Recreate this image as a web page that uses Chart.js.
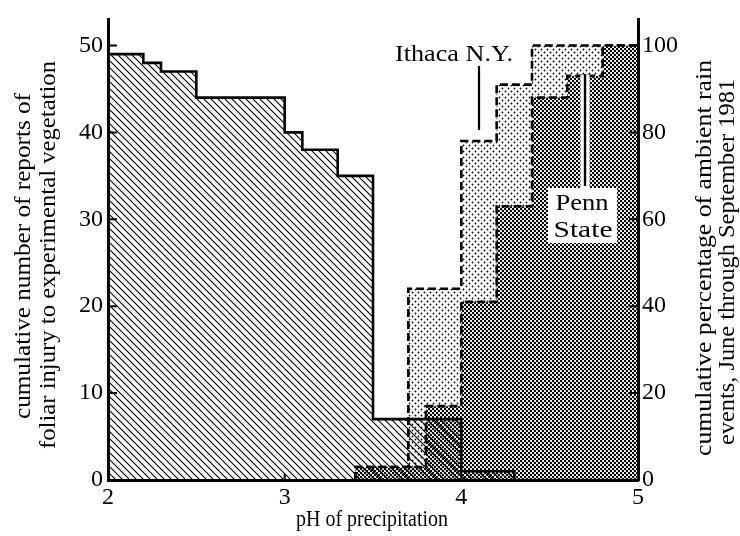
<!DOCTYPE html>
<html><head><meta charset="utf-8">
<script src="https://cdn.jsdelivr.net/npm/chart.js@4"></script>
<style>html,body{margin:0;padding:0;background:#fff}#wrap{width:740px;height:536px}</style>
</head><body><div id="wrap"><canvas id="c" width="740" height="536"></canvas></div>
<script>
// ---- data ----
const xTicks = [2, 3, 4, 5];
const leftTicks = [0, 10, 20, 30, 40, 50];
const rightTicks = [0, 20, 40, 60, 80, 100];
// injury reports (left axis), step value holds from this pH to the next
const injuryPH = [2.0, 2.2, 2.3, 2.5, 3.0, 3.1, 3.3, 3.5, 4.0, 4.3];
const injuryReports = [49, 48, 47, 44, 40, 38, 35, 7, 1, 0];
// Ithaca N.Y. cumulative % of rain events (right axis)
const ithacaPH = [3.4, 3.4, 3.7, 4.0, 4.2, 4.4, 5.0];
const ithacaPct = [0, 3, 44, 78, 91, 100, 100];
// Penn State cumulative % of rain events (right axis)
const pennPH = [3.4, 3.4, 3.8, 4.0, 4.2, 4.4, 4.6, 4.8, 5.0];
const pennPct = [0, 3, 17, 41, 63, 88, 93, 100, 100];

const xTitle = 'pH of precipitation';
const leftTitle = ['cumulative number of reports of', 'foliar injury to experimental vegetation'];
const rightTitle = ['cumulative percentage of ambient rain', 'events, June through September 1981'];
const labelIthaca = 'Ithaca N.Y.';
const labelPenn = ['Penn', 'State'];

const FONT = '"Liberation Serif", "DejaVu Serif", serif';
Chart.defaults.font.family = FONT;
Chart.defaults.color = '#000';

const canvas = document.getElementById('c');
const mainCtx = canvas.getContext('2d');

function makePattern(kind) {
  const c = document.createElement('canvas');
  const g = c.getContext('2d');
  const dot = (x, y, r) => { g.beginPath(); g.arc(x, y, r, 0, Math.PI * 2); g.fill(); };
  if (kind === 'hatch') {
    const s = 7; c.width = s; c.height = s;
    g.strokeStyle = '#000'; g.lineWidth = 1.15;
    g.beginPath();
    g.moveTo(0, 0); g.lineTo(s, s);
    g.moveTo(-1, s - 1); g.lineTo(1, s + 1);
    g.moveTo(s - 1, -1); g.lineTo(s + 1, 1);
    g.stroke();
  } else if (kind === 'light') {
    c.width = 6; c.height = 6;
    g.fillStyle = '#fff'; g.fillRect(0, 0, 6, 6);
    g.fillStyle = '#000';
    dot(1.5, 1.5, 0.9); dot(4.5, 4.5, 0.9);
  } else {
    c.width = 4; c.height = 4;
    g.fillStyle = '#fff'; g.fillRect(0, 0, 4, 4);
    g.fillStyle = '#000';
    dot(1, 1, 1.25); dot(3, 3, 1.25);
  }
  return mainCtx.createPattern(c, 'repeat');
}

const toPts = (xs, ys) => xs.map((x, i) => ({ x: x, y: ys[i] }));

// text helper: draws text with given font size, stretched horizontally to target width
function drawFit(ctx, text, x, y, size, targetW, rot, baseline, weight) {
  ctx.save();
  ctx.font = (weight || 'normal') + ' ' + size + 'px ' + FONT;
  ctx.textAlign = 'center';
  ctx.textBaseline = baseline || 'middle';
  const w = ctx.measureText(text).width;
  const sx = targetW ? targetW / w : 1;
  ctx.translate(x, y);
  if (rot) ctx.rotate(rot);
  ctx.scale(sx, 1);
  ctx.fillText(text, 0, 0);
  ctx.restore();
}

const tickMarks = {
  id: 'tickMarks',
  afterDatasetsDraw(chart) {
    const { ctx, chartArea: a, scales } = chart;
    ctx.save();
    ctx.strokeStyle = '#000'; ctx.lineWidth = 2;
    ctx.beginPath();
    leftTicks.forEach(v => { const y = scales.y.getPixelForValue(v); ctx.moveTo(a.left, y); ctx.lineTo(a.left + 9, y); });
    rightTicks.forEach(v => { const y = scales.y1.getPixelForValue(v); ctx.moveTo(a.right, y); ctx.lineTo(a.right - 9, y); });
    xTicks.forEach(v => { const x = scales.x.getPixelForValue(v); ctx.moveTo(x, a.bottom); ctx.lineTo(x, a.bottom - 6); });
    ctx.stroke();
    ctx.restore();
  }
};

const texts = {
  id: 'texts',
  afterDraw(chart) {
    const ctx = chart.ctx;
    const { scales } = chart;
    ctx.save();
    ctx.fillStyle = '#000';
    // axis titles
    drawFit(ctx, xTitle, 372, 526, 23, 152, 0, 'alphabetic');
    drawFit(ctx, leftTitle[0], 24, 256, 23, 326, -Math.PI / 2);
    drawFit(ctx, leftTitle[1], 49, 255, 23, 388, -Math.PI / 2);
    drawFit(ctx, rightTitle[0], 705, 258, 23, 396, -Math.PI / 2);
    drawFit(ctx, rightTitle[1], 728, 262, 23, 366, -Math.PI / 2);

    // Ithaca label + leader
    const xi = scales.x.getPixelForValue(4.1);
    drawFit(ctx, labelIthaca, 454, 61, 23, 118, 0, 'alphabetic');
    ctx.strokeStyle = '#000'; ctx.lineWidth = 2.2;
    ctx.beginPath(); ctx.moveTo(xi, 66); ctx.lineTo(xi, 130); ctx.stroke();

    // Penn State leader with white halo
    const xp = scales.x.getPixelForValue(4.7);
    ctx.strokeStyle = '#fff'; ctx.lineWidth = 9;
    ctx.beginPath(); ctx.moveTo(xp, 75); ctx.lineTo(xp, 188); ctx.stroke();
    ctx.strokeStyle = '#000'; ctx.lineWidth = 2.4;
    ctx.beginPath(); ctx.moveTo(xp, 74); ctx.lineTo(xp, 186); ctx.stroke();
    // Penn State label box
    ctx.fillStyle = '#fff';
    ctx.fillRect(548, 188, 69, 55);
    ctx.fillStyle = '#000';
    drawFit(ctx, labelPenn[0], 582, 210, 23, 53, 0, 'alphabetic');
    drawFit(ctx, labelPenn[1], 583, 237, 23, 59, 0, 'alphabetic');
    ctx.restore();
  }
};

const tickFont = { size: 24, family: FONT, weight: 'normal' };

new Chart(canvas, {
  type: 'line',
  data: {
    datasets: [
      {
        label: 'foliar injury reports',
        data: toPts(injuryPH, injuryReports),
        yAxisID: 'y',
        stepped: 'before',
        borderColor: '#000', borderWidth: 2.6,
        backgroundColor: makePattern('hatch'),
        fill: 'origin', pointRadius: 0, tension: 0
      },
      {
        label: 'Penn State',
        data: toPts(pennPH, pennPct),
        yAxisID: 'y1',
        stepped: 'before',
        borderColor: '#000', borderWidth: 2.6, borderDash: [8, 4],
        backgroundColor: makePattern('dense'),
        fill: 'origin', pointRadius: 0, tension: 0
      },
      {
        label: 'Ithaca N.Y.',
        data: toPts(ithacaPH, ithacaPct),
        yAxisID: 'y1',
        stepped: 'before',
        borderColor: '#000', borderWidth: 2.6, borderDash: [8, 4],
        backgroundColor: makePattern('light'),
        fill: 'origin', pointRadius: 0, tension: 0
      }
    ]
  },
  options: {
    responsive: false,
    animation: false,
    devicePixelRatio: 1,
    layout: { padding: { top: 16, left: 0, right: 0, bottom: 0 } },
    plugins: { legend: { display: false }, tooltip: { enabled: false } },
    scales: {
      x: {
        type: 'linear', min: 2, max: 5,
        afterBuildTicks: s => { s.ticks = xTicks.map(v => ({ value: v })); },
        afterFit: s => { s.height = 56; },
        ticks: { font: tickFont, color: '#000', padding: 3, maxRotation: 0, autoSkip: false },
        grid: { display: false, drawTicks: false },
        border: { display: true, color: '#000', width: 3, z: 1 }
      },
      y: {
        type: 'linear', position: 'left', min: 0, max: 53,
        afterBuildTicks: s => { s.ticks = leftTicks.map(v => ({ value: v })); },
        afterFit: s => { s.width = 108; },
        ticks: { font: tickFont, color: '#000', padding: 5, autoSkip: false },
        grid: { display: false, drawTicks: false },
        border: { display: true, color: '#000', width: 3, z: 1 }
      },
      y1: {
        type: 'linear', position: 'right', min: 0, max: 106,
        afterBuildTicks: s => { s.ticks = rightTicks.map(v => ({ value: v })); },
        afterFit: s => { s.width = 102; },
        ticks: { font: tickFont, color: '#000', padding: 4, autoSkip: false },
        grid: { display: false, drawTicks: false },
        border: { display: true, color: '#000', width: 3, z: 1 }
      }
    }
  },
  plugins: [tickMarks, texts]
});
</script>
</body></html>
